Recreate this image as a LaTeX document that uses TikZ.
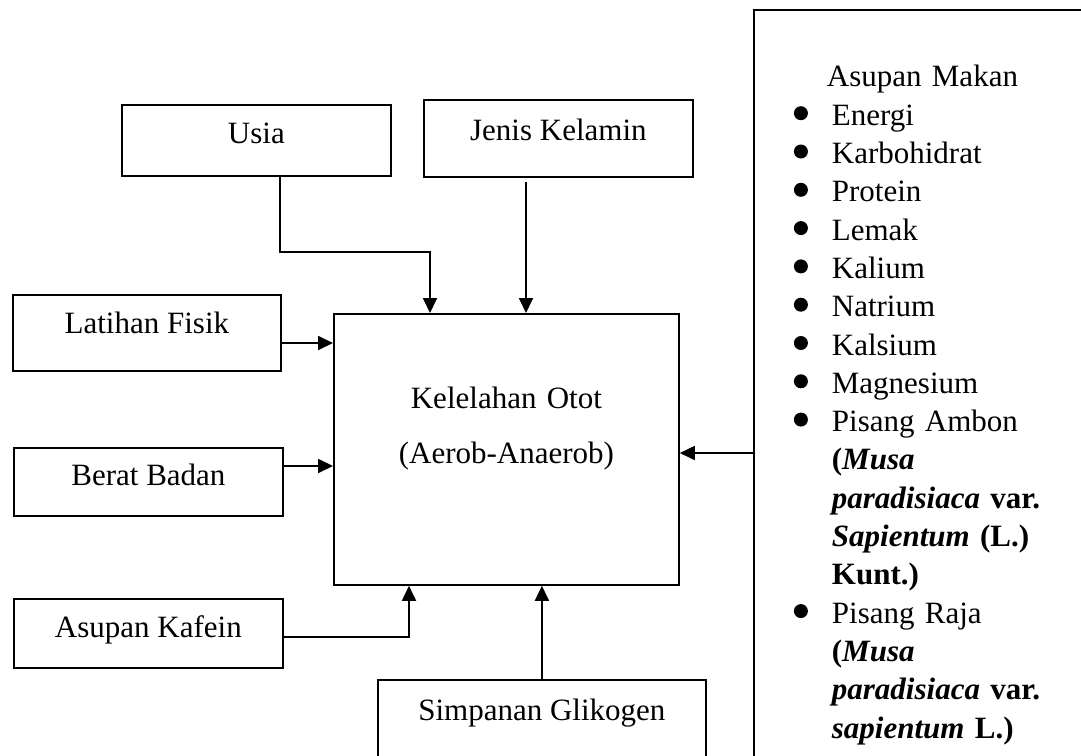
\documentclass[tikz,border=0pt]{standalone}
\usepackage{fontspec}
\setmainfont{Liberation Serif}
\usetikzlibrary{arrows.meta}
% round list bullet, raised to the middle of the x-height
\newcommand\listdot{\tikz[baseline=-12pt]\fill (7pt,0pt) circle (7pt);}
\newcommand\itm[1]{\hspace*{40pt}\makebox[38pt][l]{\listdot}#1}
\newcommand\cont[1]{\hspace*{78pt}#1}
\begin{document}
\begin{tikzpicture}[x=1pt,y=-1pt,
  box/.style={draw, line width=1.8pt, inner sep=0pt, anchor=north west,
    font=\fontsize{31}{38.3}\selectfont},
  link/.style={line width=1.8pt, -{Triangle[length=15pt,width=14pt]}}]
\useasboundingbox (0,0) rectangle (1081,755);
\clip (0,0) rectangle (1081,755);
\fill[white] (0,0) rectangle (1081,755);

% factor boxes
\node[box, minimum width=269pt, text height=39pt, text depth=32pt] (usia) at (121,104) {Usia};
\node[box, minimum width=269pt, text height=41pt, text depth=36pt] (jenis) at (423,99) {Jenis Kelamin};
\node[box, minimum width=268pt, text height=39pt, text depth=37pt] (latihan) at (12,294) {Latihan Fisik};
\node[box, minimum width=269pt, text height=38pt, text depth=30pt] (berat) at (13,447) {Berat Badan};
\node[box, minimum width=269pt, text height=39pt, text depth=30pt] (kafein) at (13,598) {Asupan Kafein};
\node[box, minimum width=328pt, text height=41pt, text depth=80pt] (glikogen) at (377,679) {Simpanan Glikogen};

% central outcome
\node[box, text width=345pt, align=center, text height=95pt, text depth=176pt] (main) at (333,313)
  {Kelelahan Otot\\[16.7pt](Aerob-Anaerob)};

% dietary intake list
\node[box, text width=400pt, align=left, text height=77pt, text depth=720pt] (asupan) at (753,9) {%
\hspace*{73pt}Asupan Makan\\%
\itm{Energi}\\%
\itm{Karbohidrat}\\%
\itm{Protein}\\%
\itm{Lemak}\\%
\itm{Kalium}\\%
\itm{Natrium}\\%
\itm{Kalsium}\\%
\itm{Magnesium}\\%
\itm{Pisang Ambon}\\%
\cont{\textbf{(\textit{Musa}}}\\%
\cont{\textbf{\textit{paradisiaca} var.}}\\%
\cont{\textbf{\textit{Sapientum} (L.)}}\\%
\cont{\textbf{Kunt.)}}\\%
\itm{Pisang Raja}\\%
\cont{\textbf{(\textit{Musa}}}\\%
\cont{\textbf{\textit{paradisiaca} var.}}\\%
\cont{\textbf{\textit{sapientum} L.)}}};

% connectors
\draw[link] (usia.south -| 280,0) |- (430,252) -- (main.north -| 430,0);
\draw[link, shorten <=4pt] (jenis.south -| 526,0) -- (main.north -| 526,0);
\draw[link] (latihan.east |- 0,343) -- (main.west |- 0,343);
\draw[link] (berat.east |- 0,466) -- (main.west |- 0,466);
\draw[link] (kafein.east |- 0,637) -| (main.south -| 409,0);
\draw[link] (glikogen.north) -- (main.south -| glikogen.north);
\draw[link] (asupan.west |- 0,453) -- (main.east |- 0,453);
\end{tikzpicture}
\end{document}
